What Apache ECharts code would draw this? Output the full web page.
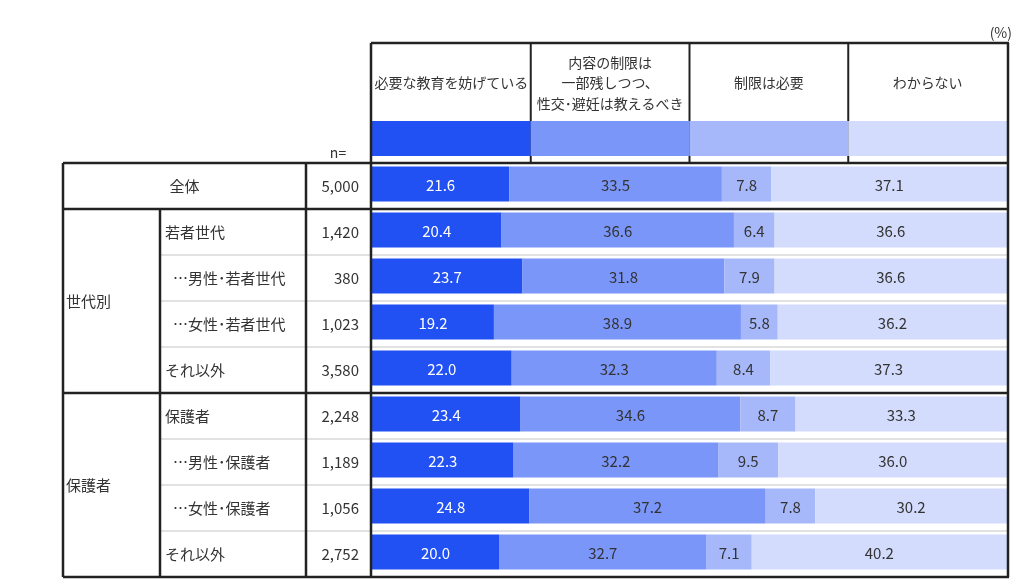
<!DOCTYPE html>
<html><head><meta charset="utf-8">
<script src="https://cdn.jsdelivr.net/npm/echarts@6/dist/echarts.min.js"></script>
<style>html,body{margin:0;padding:0;background:#fff}#c{width:1031px;height:586px}</style>
</head><body><div id="c"></div>
<script>
// ---- data ----
const rowLabels = ['全体','若者世代','…男性･若者世代','…女性･若者世代','それ以外','保護者','…男性･保護者','…女性･保護者','それ以外'];
const sampleSizes = ['5,000','1,420','380','1,023','3,580','2,248','1,189','1,056','2,752'];
const groupNames = ['世代別','保護者'];
const groupRows = [[1,4],[5,8]];
const seriesNames = ['必要な教育を妨げている','内容の制限は\n一部残しつつ、\n性交･避妊は教えるべき','制限は必要','わからない'];
const valNeeded = [21.6,20.4,23.7,19.2,22.0,23.4,22.3,24.8,20.0];
const valPartial = [33.5,36.6,31.8,38.9,32.3,34.6,32.2,37.2,32.7];
const valLimit = [7.8,6.4,7.9,5.8,8.4,8.7,9.5,7.8,7.1];
const valUnknown = [37.1,36.6,36.6,36.2,37.3,33.3,36.0,30.2,40.2];
const headerTicks = [0,25,50,75,100];

// ---- style/layout ----
const colors = ['#2150F3','#7A96F8','#A6B8FA','#D3DCFC'];
const FONT = '"Noto Sans CJK JP","Noto Sans",sans-serif';
const TXT = '#333333';
const LINE = '#222222';
const LIGHT = '#e2e2e2';
const TABLE_LEFT = 63, GROUP_COL = 160, N_COL = 306, BAR_LEFT = 371, RIGHT = 1008;
const HEAD_TOP = 43, BAND_TOP = 121, BAND_BOT = 156, ROW_TOP = 163, ROW_H = 46;
const NROWS = rowLabels.length;

const chart = echarts.init(document.getElementById('c'), null, {renderer:'canvas'});
const allVals = [valNeeded, valPartial, valLimit, valUnknown];
chart.setOption({
  animation:false,
  grid:{left:BAR_LEFT+1, right:1031-(RIGHT-1), top:ROW_TOP-2, height:NROWS*ROW_H},
  xAxis:{type:'value', min:0, max:100, show:false},
  yAxis:{type:'category', inverse:true, data:rowLabels.map((_,i)=>i), show:false},
  series: allVals.map((d,si)=>({
    type:'bar', stack:'all', name:seriesNames[si], data:d, barWidth:35, silent:true,
    itemStyle:{color:colors[si]},
    label:{show:true, position:'inside', fontSize:15, fontFamily:FONT,
      color: si===0 ? '#ffffff' : TXT, formatter:p=>p.value.toFixed(1), offset:[0,1]}
  }))
});

const g = [];
function line(x1,y1,x2,y2,stroke,w,z){ g.push({type:'line', z:z||10, silent:true, shape:{x1,y1,x2,y2}, style:{stroke, lineWidth:w}}); }
function text(t,x,y,align,size,fill,lh){ g.push({type:'text', z:20, silent:true, x, y, style:{text:t, fill:fill||TXT, fontSize:size||15, fontFamily:FONT, align:align||'left', verticalAlign:'middle', lineHeight:lh||20}}); }

// header columns from the x axis
const hx = headerTicks.map(v=>chart.convertToPixel({xAxisIndex:0}, v));
for (let i=0;i<4;i++){
  g.push({type:'rect', z:5, silent:true, shape:{x:hx[i], y:BAND_TOP, width:hx[i+1]-hx[i], height:BAND_BOT-BAND_TOP}, style:{fill:colors[i]}});
  text(seriesNames[i], (hx[i]+hx[i+1])/2, (HEAD_TOP+BAND_TOP)/2+1, 'center', 14, TXT, 20.5);
}
for (let i=1;i<4;i++) line(hx[i], HEAD_TOP, hx[i], ROW_TOP, LINE, 2, 1);

const rowY = i => ROW_TOP + i*ROW_H;
const BOTTOM = rowY(NROWS);
// horizontal lines
line(BAR_LEFT, HEAD_TOP, RIGHT+1, HEAD_TOP, LINE, 2.5);
const thick = [0,1,5,NROWS];
thick.forEach(r=>line(TABLE_LEFT, rowY(r), RIGHT+1, rowY(r), LINE, 2.5));
for (let r=1;r<NROWS;r++){ if (thick.indexOf(r)<0) line(GROUP_COL, rowY(r), RIGHT, rowY(r), LIGHT, 2, 3); }
// vertical lines
line(TABLE_LEFT, ROW_TOP, TABLE_LEFT, BOTTOM, LINE, 2.5);
line(GROUP_COL, rowY(1), GROUP_COL, BOTTOM, LINE, 2.5);
line(N_COL, ROW_TOP, N_COL, BOTTOM, LINE, 2.5);
line(BAR_LEFT, HEAD_TOP, BAR_LEFT, BOTTOM, LINE, 2.5);
line(RIGHT, HEAD_TOP, RIGHT, BOTTOM, LINE, 2.5);

// texts
text('(%)', RIGHT+4, 33, 'right', 14);
text('n=', 338, 153, 'center', 14);
for (let i=0;i<NROWS;i++){
  const cy = rowY(i)+ROW_H/2;
  if (i===0) text(rowLabels[i], (TABLE_LEFT+N_COL)/2, cy, 'center');
  else text(rowLabels[i], rowLabels[i].charAt(0)==='…' ? 173 : 165, cy, 'left');
  text(sampleSizes[i], BAR_LEFT-12, cy, 'right');
}
groupRows.forEach((gr,k)=>{
  text(groupNames[k], TABLE_LEFT+3, (rowY(gr[0])+rowY(gr[1]+1))/2, 'left');
});

chart.setOption({graphic:g});
</script></body></html>
